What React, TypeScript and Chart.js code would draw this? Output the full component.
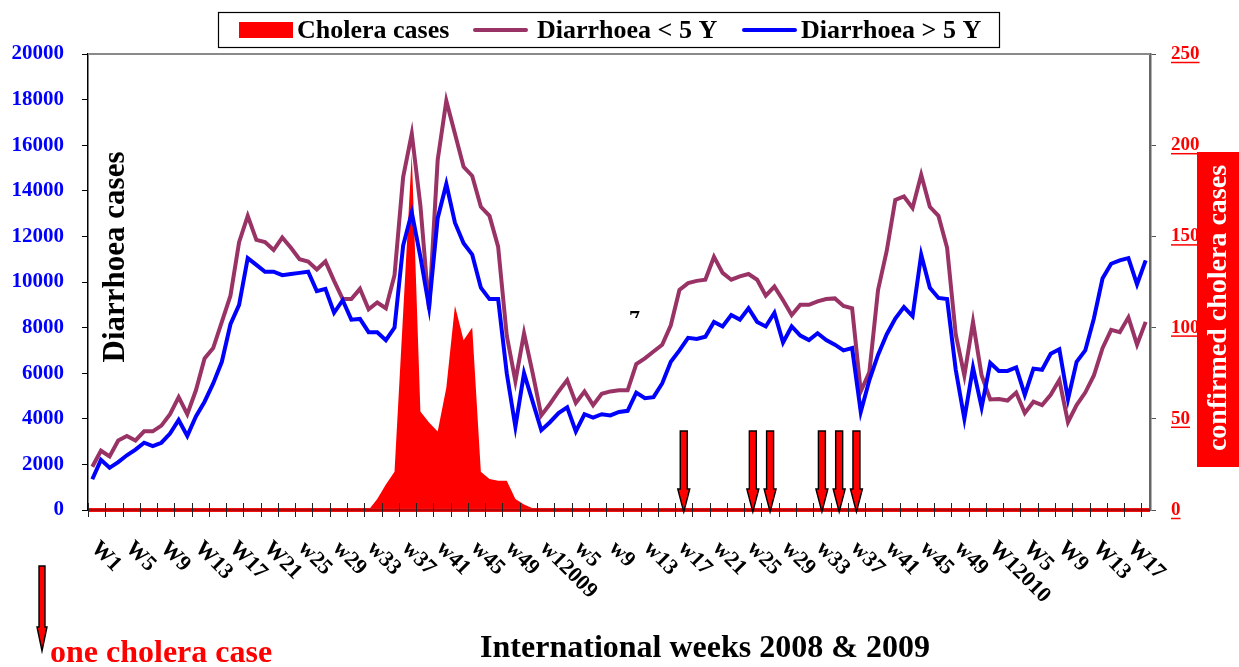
import React, { useEffect, useRef } from "react";
import { Chart, registerables } from "chart.js";

Chart.register(...registerables);

const SERIF = '"Liberation Serif", "Times New Roman", Times, serif';

// Categories: international weeks 2008 W1 .. 2010 W19
const weeks: string[] = [];
for (let w = 1; w <= 52; w++) weeks.push(`2008 W${w}`);
for (let w = 1; w <= 52; w++) weeks.push(`2009 W${w}`);
for (let w = 1; w <= 19; w++) weeks.push(`2010 W${w}`);

// Tick labels shown every 4th week
const tickLabels = [
  "W1", "W5", "W9", "W13", "W17", "W21", "w25", "w29", "w33", "w37", "w41", "w45", "w49",
  "w12009", "w5", "w9", "w13", "w17", "w21", "w25", "w29", "w33", "w37", "w41", "w45", "w49",
  "W12010", "W5", "W9", "W13", "W17",
];
const tickLabelEvery = 4;

const diarrhoeaUnder5 = [
  1900, 2600, 2350, 3050, 3250, 3050, 3450, 3450, 3700, 4200,
  4950, 4200, 5250, 6650, 7100, 8250, 9400, 11750, 12900, 11850,
  11750, 11400, 11950, 11500, 11000, 10900, 10550, 10900, 10050, 9250,
  9250, 9700, 8800, 9100, 8850, 10300, 14600, 16500, 13350, 8800,
  15350, 17950, 16500, 15050, 14650, 13300, 12900, 11550, 7650, 5650,
  7750, 6000, 4150, 4650, 5200, 5700, 4700, 5200, 4600, 5100,
  5200, 5250, 5250, 6400, 6650, 6950, 7250, 8100, 9650, 9950,
  10050, 10100, 11100, 10400, 10100, 10250, 10350, 10100, 9400, 9800,
  9200, 8550, 9000, 9000, 9150, 9250, 9280, 8950, 8850, 5200,
  6050, 9650, 11350, 13600, 13750, 13250, 14700, 13300, 12900, 11500,
  7700, 5900, 8250, 5900, 4850, 4870, 4800, 5150, 4250, 4750,
  4600, 5050, 5700, 3850, 4600, 5150, 5900, 7100, 7900, 7800,
  8450, 7250, 8250,
];

const diarrhoeaOver5 = [
  1350, 2200, 1850, 2100, 2400, 2650, 2950, 2800, 2950, 3350,
  3950, 3250, 4100, 4750, 5550, 6500, 8150, 9000, 11050, 10750,
  10450, 10450, 10300, 10350, 10400, 10450, 9600, 9700, 8650, 9200,
  8350, 8380, 7800, 7800, 7450, 8000, 11600, 13050, 11100, 8900,
  12800, 14300, 12600, 11700, 11200, 9750, 9250, 9250, 6000, 3650,
  6000, 4750, 3500, 3850, 4250, 4500, 3450, 4200, 4050, 4200,
  4150, 4300, 4350, 5150, 4900, 4950, 5550, 6500, 7000, 7550,
  7500, 7600, 8250, 8050, 8550, 8350, 8850, 8250, 8050, 8650,
  7350, 8050, 7650, 7450, 7750, 7450, 7250, 7000, 7100, 4300,
  5700, 6800, 7700, 8400, 8900, 8500, 11200, 9750, 9300, 9250,
  6150, 4000, 6250, 4500, 6450, 6100, 6100, 6250, 5050, 6200,
  6150, 6850, 7050, 4850, 6500, 7000, 8400, 10150, 10800, 10950,
  11050, 9900, 10950,
];

const choleraCases = [
  0, 0, 0, 0, 0, 0, 0, 0, 0, 0,
  0, 0, 0, 0, 0, 0, 0, 0, 0, 0,
  0, 0, 0, 0, 0, 0, 0, 0, 0, 0,
  0, 0, 0, 6, 14, 21, 108, 195, 54, 48,
  43, 67, 112, 93, 100, 21, 17, 16, 16, 6,
  3, 1, 0, 0, 0, 0, 0, 0, 0, 0,
  0, 0, 0, 0, 0, 0, 0, 0, 0, 1,
  0, 0, 0, 0, 0, 0, 0, 1, 0, 1,
  0, 0, 0, 0, 0, 1, 0, 1, 0, 1,
  0, 0, 0, 0, 0, 0, 0, 0, 0, 0,
  0, 0, 0, 0, 0, 0, 0, 0, 0, 0,
  0, 0, 0, 0, 0, 0, 0, 0, 0, 0,
  0, 0, 0,
];

// Weeks marked with an arrow = one cholera case
const arrowWeeks = [69, 77, 79, 85, 87, 89];

function drawArrow(ctx: CanvasRenderingContext2D, cx: number, top: number, tip: number, shaftW: number, headW: number, headL: number) {
  ctx.beginPath();
  ctx.moveTo(cx - shaftW / 2, top);
  ctx.lineTo(cx + shaftW / 2, top);
  ctx.lineTo(cx + shaftW / 2, tip - headL);
  ctx.lineTo(cx + headW / 2, tip - headL);
  ctx.lineTo(cx, tip);
  ctx.lineTo(cx - headW / 2, tip - headL);
  ctx.lineTo(cx - shaftW / 2, tip - headL);
  ctx.closePath();
  ctx.fillStyle = "#ff0000";
  ctx.fill();
  ctx.strokeStyle = "#000";
  ctx.lineWidth = 1.4;
  ctx.stroke();
}

const decorPlugin = {
  id: "decor",
  afterDraw(chart: any) {
    const ctx: CanvasRenderingContext2D = chart.ctx;
    const area = chart.chartArea;
    const xs = chart.scales.x;
    const y1 = chart.scales.y1;
    ctx.save();

    // top border of plot
    ctx.strokeStyle = "#8a8a8a";
    ctx.lineWidth = 2;
    ctx.beginPath();
    ctx.moveTo(area.left, area.top);
    ctx.lineTo(area.right, area.top);
    ctx.stroke();

    // red baseline (cholera zero line)
    ctx.strokeStyle = "#ee1111";
    ctx.lineWidth = 4;
    ctx.beginPath();
    ctx.moveTo(area.left, area.bottom);
    ctx.lineTo(area.right, area.bottom);
    ctx.stroke();
    ctx.strokeStyle = "#7a0000";
    ctx.lineWidth = 1.2;
    ctx.beginPath();
    ctx.moveTo(area.left, area.bottom);
    ctx.lineTo(area.right, area.bottom);
    ctx.stroke();

    // x tick marks every 2 weeks, between categories, crossing axis
    ctx.strokeStyle = "#222";
    ctx.lineWidth = 1;
    for (let k = 0; k < weeks.length; k += 2) {
      const px = Math.round(xs.getPixelForValue(k - 0.5)) + 0.5;
      ctx.beginPath();
      ctx.moveTo(px, area.bottom - 7);
      ctx.lineTo(px, area.bottom + 7);
      ctx.stroke();
    }

    // arrows for single cholera cases (placed at the start of the week)
    for (const wk of arrowWeeks) {
      const px = xs.getPixelForValue(wk - 0.5);
      drawArrow(ctx, px, area.bottom - 79, area.bottom + 2, 7, 12, 23);
    }

    // rotated x labels
    ctx.fillStyle = "#000";
    ctx.font = `bold 22px ${SERIF}`;
    ctx.textAlign = "left";
    ctx.textBaseline = "alphabetic";
    for (let i = 0; i < weeks.length; i += tickLabelEvery) {
      const lbl = tickLabels[i / tickLabelEvery];
      if (!lbl) continue;
      const px = xs.getPixelForValue(i);
      ctx.save();
      ctx.translate(px - 2, area.bottom + 39);
      ctx.rotate(Math.PI / 4);
      ctx.fillText(lbl, 0, 0);
      ctx.restore();
    }

    // right axis label underlines
    ctx.strokeStyle = "#ff0000";
    ctx.lineWidth = 1.5;
    ctx.font = `bold 19px ${SERIF}`;
    for (const t of y1.ticks) {
      const py = y1.getPixelForValue(t.value);
      const w = ctx.measureText(String(t.value)).width;
      const lx = y1.left + 21;
      ctx.beginPath();
      ctx.moveTo(lx, py + 8.5);
      ctx.lineTo(lx + w, py + 8.5);
      ctx.stroke();
    }

    // left axis title (inside plot)
    ctx.save();
    ctx.translate(116, 257);
    ctx.rotate(-Math.PI / 2);
    ctx.fillStyle = "#000";
    ctx.font = `bold 31px ${SERIF}`;
    ctx.textAlign = "center";
    ctx.textBaseline = "middle";
    ctx.fillText("Diarrhoea cases", 0, 0);
    ctx.restore();

    // right axis title box
    ctx.fillStyle = "#ff0000";
    ctx.fillRect(1197, 152, 42, 315);
    ctx.save();
    ctx.translate(1219, 308);
    ctx.rotate(-Math.PI / 2);
    ctx.fillStyle = "#fff";
    ctx.font = `bold 28px ${SERIF}`;
    ctx.textAlign = "center";
    ctx.textBaseline = "middle";
    ctx.fillText("confirmed cholera cases", 0, 0);
    ctx.restore();

    // legend
    ctx.strokeStyle = "#000";
    ctx.lineWidth = 1.2;
    ctx.strokeRect(218.5, 12.5, 781, 35);
    ctx.fillStyle = "#ff0000";
    ctx.fillRect(239, 22, 54, 16);
    ctx.font = `bold 26px ${SERIF}`;
    ctx.textAlign = "left";
    ctx.textBaseline = "middle";
    ctx.fillStyle = "#000";
    ctx.fillText("Cholera cases", 297, 31);
    ctx.lineCap = "round";
    ctx.lineWidth = 4;
    ctx.strokeStyle = "#993366";
    ctx.beginPath();
    ctx.moveTo(475, 30);
    ctx.lineTo(526, 30);
    ctx.stroke();
    ctx.fillText("Diarrhoea < 5 Y", 537, 31);
    ctx.strokeStyle = "#0000ff";
    ctx.beginPath();
    ctx.moveTo(744, 30);
    ctx.lineTo(795, 30);
    ctx.stroke();
    ctx.fillText("Diarrhoea > 5 Y", 801, 31);
    ctx.lineCap = "butt";

    // x axis title
    ctx.fillStyle = "#000";
    ctx.font = `bold 32px ${SERIF}`;
    ctx.textAlign = "center";
    ctx.textBaseline = "alphabetic";
    ctx.fillText("International weeks 2008 & 2009", 705, 657);

    // note at bottom left
    drawArrow(ctx, 42, 566, 651, 6, 10, 24);
    ctx.fillStyle = "#ff0000";
    ctx.font = `bold 32px ${SERIF}`;
    ctx.textAlign = "left";
    ctx.fillText("one cholera case", 50, 662);

    // stray glyph fragment
    ctx.save();
    ctx.beginPath();
    ctx.rect(620, 300, 40, 18);
    ctx.clip();
    ctx.fillStyle = "#000";
    ctx.font = `bold 22px ${SERIF}`;
    ctx.fillText("7", 629, 325);
    ctx.restore();

    ctx.restore();
  },
};

export default function App() {
  const canvasRef = useRef<HTMLCanvasElement | null>(null);

  useEffect(() => {
    document.body.style.margin = "0";
    const canvas = canvasRef.current;
    if (!canvas) return;
    Chart.defaults.font.family = SERIF;
    const chart = new Chart(canvas, {
      type: "line",
      data: {
        labels: weeks,
        datasets: [
          {
            label: "Cholera cases",
            data: choleraCases,
            yAxisID: "y1",
            fill: "origin",
            backgroundColor: "#ff0000",
            borderColor: "#ff0000",
            borderWidth: 0,
            pointRadius: 0,
            tension: 0,
            order: 3,
          },
          {
            label: "Diarrhoea < 5 Y",
            data: diarrhoeaUnder5,
            yAxisID: "y",
            borderColor: "#993366",
            borderWidth: 4,
            pointRadius: 0,
            fill: false,
            tension: 0,
            order: 2,
          },
          {
            label: "Diarrhoea > 5 Y",
            data: diarrhoeaOver5,
            yAxisID: "y",
            borderColor: "#0000ff",
            borderWidth: 4,
            pointRadius: 0,
            fill: false,
            tension: 0,
            order: 1,
          },
        ],
      },
      options: {
        responsive: false,
        animation: false,
        devicePixelRatio: 1,
        layout: { padding: { top: 54, left: 0, right: 0, bottom: 0 } },
        plugins: {
          legend: { display: false },
          tooltip: { enabled: false },
          title: { display: false },
        },
        scales: {
          x: {
            type: "category",
            offset: true,
            grid: { display: false },
            border: { display: false },
            ticks: { display: false },
            afterFit: (s: any) => {
              s.height = 157;
            },
          },
          y: {
            position: "left",
            min: 0,
            max: 20000,
            ticks: {
              stepSize: 2000,
              autoSkip: false,
              color: "#0000ff",
              font: { family: SERIF, size: 21, weight: "bold" },
              padding: 18,
              callback: (v: any) => String(v),
            },
            grid: { drawOnChartArea: false, drawTicks: true, tickLength: 6, color: "#000", lineWidth: 1 },
            border: { color: "#000", width: 1.5 },
            afterFit: (s: any) => {
              s.width = 88;
            },
          },
          y1: {
            position: "right",
            min: 0,
            max: 250,
            ticks: {
              stepSize: 50,
              autoSkip: false,
              color: "#ff0000",
              font: { family: SERIF, size: 19, weight: "bold" },
              padding: 15,
              callback: (v: any) => String(v),
            },
            grid: { drawOnChartArea: false, drawTicks: true, tickLength: 6, color: "#555", lineWidth: 1 },
            border: { color: "#666", width: 2.5 },
            afterFit: (s: any) => {
              s.width = 89;
            },
          },
        },
      },
      plugins: [decorPlugin],
    } as any);
    return () => chart.destroy();
  }, []);

  return (
    <div style={{ width: 1239, height: 667, position: "relative", background: "#fff" }}>
      <canvas ref={canvasRef} width={1239} height={667} style={{ display: "block" }} />
    </div>
  );
}
